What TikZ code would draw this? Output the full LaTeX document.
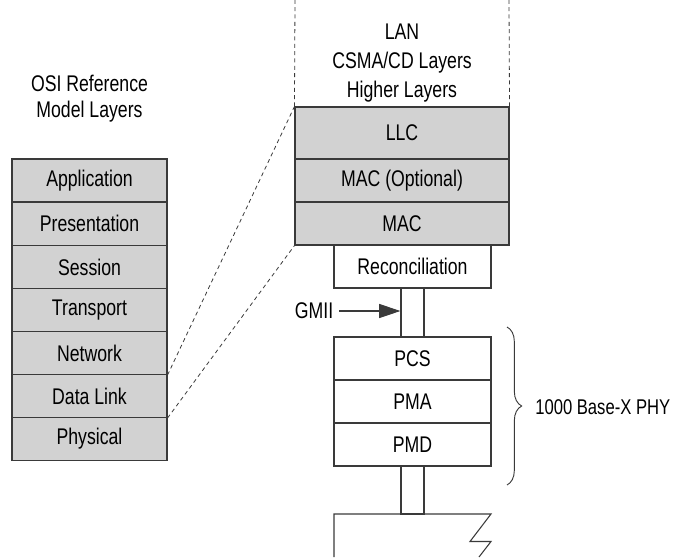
\documentclass[tikz,border=0pt]{standalone}
\usepackage{fontspec}
\setmainfont{Liberation Sans}[FakeStretch=0.78]
\usetikzlibrary{arrows.meta,decorations.pathreplacing}
\definecolor{ln}{HTML}{3A3A3A}
\definecolor{fl}{HTML}{D2D2D2}
\begin{document}
\begin{tikzpicture}[x=0.75pt,y=-0.75pt,
  every node/.style={font=\fontsize{17}{20}\selectfont, text=black},
  layer/.style={draw=ln, line width=0.8pt, inner sep=0pt, minimum height={43*0.75pt}},
  graylayer/.style={layer, fill=fl},
  osi/.style={graylayer, minimum width={155*0.75pt}},
  lan/.style={graylayer, minimum width={214*0.75pt}},
  phy/.style={layer, fill=white, minimum width={157*0.75pt}},
  pipe/.style={draw=ln, line width=0.8pt, inner sep=0pt, minimum width={23*0.75pt}},
  lbl/.style={inner sep=0pt, align=center},
  guide/.style={draw=ln, line width=0.6pt, dash pattern=on 3pt off 2.5pt}
]
\useasboundingbox (0,0) rectangle (674,557);

% OSI stack
\node[lbl] (osit1) at (89.5,83) {OSI Reference};
\node[lbl] (osit2) at (89.5,112) {Model Layers};
\node[osi] (app) at (89.5,180.5) {Application};
\node[osi] (pres) at (89.5,223.75) {Presentation};
\node[osi] (ses) at (89.5,267.25) {Session};
\node[osi] (tra) at (89.5,310.25) {Transport};
\node[osi] (net) at (89.5,353) {Network};
\node[osi] (dl) at (89.5,396) {Data Link};
\node[osi] (phys) at (89.5,439) {Physical};

% LAN stack
\node[lbl] (lan1) at (402,32) {LAN};
\node[lbl] (lan2) at (402,63) {CSMA/CD Layers};
\node[lbl] (lan3) at (402,92) {Higher Layers};
\node[lan, minimum height={52*0.75pt}] (llc) at (402,133) {LLC};
\node[lan] (maco) at (402,180.5) {MAC (Optional)};
\node[lan] (mac) at (402,223.5) {MAC};
\coordinate (topl) at (295,0);
\coordinate (topr) at (509,0);
\draw[guide] (llc.north west) -- (topl);
\draw[guide] (llc.north east) -- (topr);

% Physical side
\node[phy] (rec) at (412.5,266.5) {Reconciliation};
\node[pipe, minimum height={49*0.75pt}] (pipe1) at (412.5,312.75) {};
\node[phy] (pcs) at (412.5,358.5) {PCS};
\node[phy] (pma) at (412.5,401.5) {PMA};
\node[phy] (pmd) at (412.5,444.5) {PMD};
\node[pipe, minimum height={48*0.75pt}] (pipe2) at (412.5,490) {};

% bottom medium (broken box)
\coordinate (mbl) at (334,557);
\coordinate (mtl) at (334,514);
\coordinate (mtr) at (491,514);
\coordinate (mz1) at (470,541.5);
\coordinate (mz2) at (491,541.5);
\coordinate (mz3) at (479,557);
\draw[draw=ln, line width=0.8pt, line join=miter] (mbl) -- (mtl) -- (mtr) -- (mz1) -- (mz2) -- (mz3);

% GMII
\node[lbl] (gmii) at (314,311) {GMII};
\draw[draw=ln, line width=0.8pt, -{Triangle[length=16pt,width=10.5pt]}] (gmii.east) ++(6,0) coordinate (ga) -- (ga -| pipe1.west);

% Brace
\coordinate (bt) at (507,327);
\coordinate (bb) at (507,485);
\draw[draw=ln, line width=0.7pt, decorate, decoration={brace, amplitude=11pt}] (bt) -- (bb);
\node[lbl, anchor=west, font=\fontsize{16}{19}\selectfont] (phylbl) at (535,407) {1000 Base-X PHY};

% mapping lines
\draw[guide] (net.south east) -- (llc.north west);
\draw[guide] (dl.south east) -- (mac.south west);
\end{tikzpicture}
\end{document}
